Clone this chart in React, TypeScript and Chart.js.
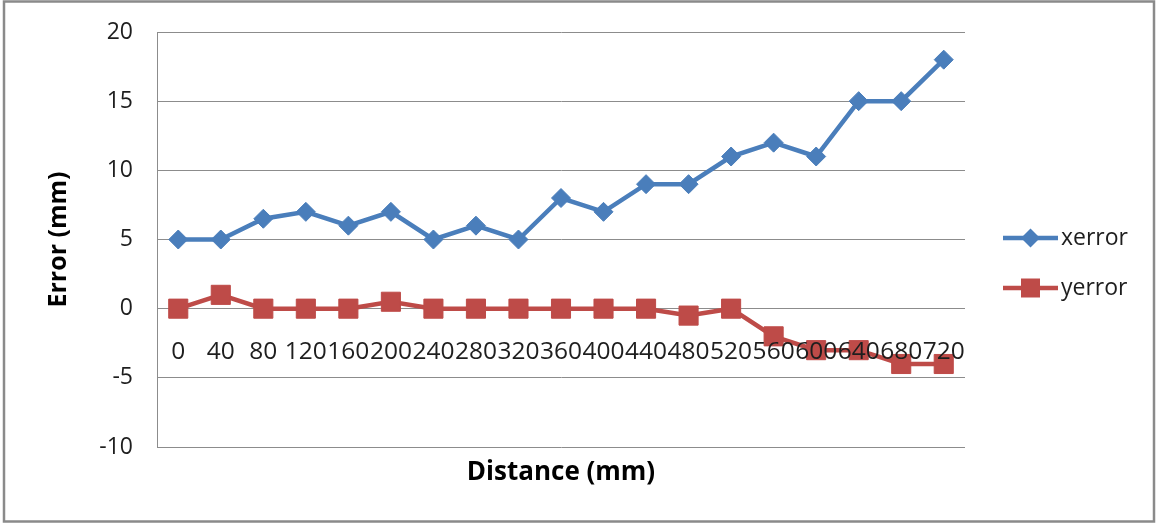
import React, { useEffect, useRef } from "react";
import { Chart, registerables } from "chart.js";

Chart.register(...registerables);

// Measurement positions along the track (mm)
const distances = ["0", "40", "80", "120", "160", "200", "240", "280", "320", "360", "400", "440", "480", "520", "560", "600", "640", "680", "720"];
// Error in x direction (mm)
const xErrorValues = [5, 5, 6.5, 7, 6, 7, 5, 6, 5, 8, 7, 9, 9, 11, 12, 11, 15, 15, 18];
// Error in y direction (mm)
const yErrorValues = [0, 1, 0, 0, 0, 0.5, 0, 0, 0, 0, 0, 0, -0.5, 0, -2, -3, -3, -4, -4];
// Value axis range
const yMin = -10;
const yMax = 20;
const yStep = 5;

const BLUE = "#4a7ebb";
const RED = "#be4b48";
const GRID = "#8c8c8c";
const TEXT = "#1e1e1e";
const FONT = "'Open Sans', 'DejaVu Sans', sans-serif";

// White background and the outer frame of the chart
const framePlugin = {
  id: "frame",
  beforeDraw(chart: any) {
    const { ctx, width, height } = chart;
    ctx.save();
    ctx.fillStyle = "#ffffff";
    ctx.fillRect(0, 0, width, height);
    ctx.strokeStyle = "#8a8a8a";
    ctx.lineWidth = 2.5;
    ctx.strokeRect(4, 1.5, width - 6, height - 3);
    ctx.restore();
  },
};

// Category labels sit alongside the zero line, above the markers
const categoryLabelPlugin = {
  id: "categoryLabels",
  afterDatasetsDraw(chart: any) {
    const { ctx } = chart;
    const xs = chart.scales.x;
    const ys = chart.scales.y;
    const y0 = ys.getPixelForValue(0) + 43;
    ctx.save();
    ctx.font = `24.5px ${FONT}`;
    ctx.fillStyle = TEXT;
    ctx.textAlign = "center";
    ctx.textBaseline = "middle";
    (chart.data.labels as string[]).forEach((label, i) => {
      ctx.fillText(label, xs.getPixelForValue(i), y0);
    });
    ctx.restore();
  },
};

// Legend on the right: line segment with its marker, then the series name
const lineLegendPlugin = {
  id: "lineLegend",
  afterDraw(chart: any) {
    const { ctx } = chart;
    const x0 = 1003;
    const x1 = 1058;
    const rows = [238, 288];
    chart.data.datasets.forEach((ds: any, i: number) => {
      const y = rows[i];
      const cx = (x0 + x1) / 2;
      ctx.save();
      ctx.strokeStyle = ds.borderColor;
      ctx.lineWidth = ds.borderWidth;
      ctx.beginPath();
      ctx.moveTo(x0, y);
      ctx.lineTo(x1, y);
      ctx.stroke();
      ctx.fillStyle = ds.pointBackgroundColor;
      ctx.beginPath();
      if (ds.pointStyle === "rectRot") {
        const r = 9.5;
        ctx.moveTo(cx - r, y);
        ctx.lineTo(cx, y - r);
        ctx.lineTo(cx + r, y);
        ctx.lineTo(cx, y + r);
        ctx.closePath();
      } else {
        const s = 9.5;
        ctx.rect(cx - s, y - s, 2 * s, 2 * s);
      }
      ctx.fill();
      ctx.font = `23px ${FONT}`;
      ctx.fillStyle = TEXT;
      ctx.textAlign = "left";
      ctx.textBaseline = "middle";
      ctx.fillText(ds.label, x1 + 3, y);
      ctx.restore();
    });
  },
};

export default function App() {
  const canvasRef = useRef<HTMLCanvasElement | null>(null);

  useEffect(() => {
    document.body.style.margin = "0";
    const canvas = canvasRef.current;
    if (!canvas) return;
    const chart = new Chart(canvas, {
      type: "line",
      data: {
        labels: distances,
        datasets: [
          {
            label: "xerror",
            data: xErrorValues,
            borderColor: BLUE,
            backgroundColor: BLUE,
            pointBackgroundColor: BLUE,
            pointBorderColor: BLUE,
            borderWidth: 4.5,
            pointStyle: "rectRot",
            pointRadius: 9.5,
            pointBorderWidth: 1,
            tension: 0,
          },
          {
            label: "yerror",
            data: yErrorValues,
            borderColor: RED,
            backgroundColor: RED,
            pointBackgroundColor: RED,
            pointBorderColor: RED,
            borderWidth: 4.5,
            pointStyle: "rect",
            pointRadius: 13.5,
            pointBorderWidth: 1,
            tension: 0,
          },
        ],
      },
      options: {
        animation: false,
        responsive: false,
        maintainAspectRatio: false,
        layout: { padding: { top: 32, right: 191, bottom: 0, left: 0 } },
        plugins: {
          legend: { display: false },
          tooltip: { enabled: false },
        },
        scales: {
          x: {
            type: "category",
            offset: true,
            grid: { display: false },
            border: { display: false },
            ticks: { display: false },
            title: {
              display: true,
              text: "Distance (mm)",
              color: "#000",
              font: { family: FONT, size: 26, weight: "bold" },
              padding: { top: 0, bottom: 35 },
            },
            afterFit(scale: any) {
              scale.height = 76;
            },
          },
          y: {
            min: yMin,
            max: yMax,
            ticks: {
              stepSize: yStep,
              color: TEXT,
              font: { family: FONT, size: 23 },
              padding: 2,
            },
            grid: {
              color: GRID,
              lineWidth: 1,
              drawTicks: true,
              tickLength: 22,
              tickColor: "rgba(0,0,0,0)",
            },
            border: { color: GRID, width: 1 },
            title: {
              display: true,
              text: "Error (mm)",
              color: "#000",
              font: { family: FONT, size: 25, weight: "bold" },
              padding: { top: 44, bottom: 0 },
            },
            afterFit(scale: any) {
              scale.width = 157;
            },
          },
        },
      },
      plugins: [framePlugin, categoryLabelPlugin, lineLegendPlugin],
    });
    return () => chart.destroy();
  }, []);

  return (
    <div style={{ width: 1156, height: 523 }}>
      <canvas ref={canvasRef} width={1156} height={523} style={{ display: "block" }} />
    </div>
  );
}
